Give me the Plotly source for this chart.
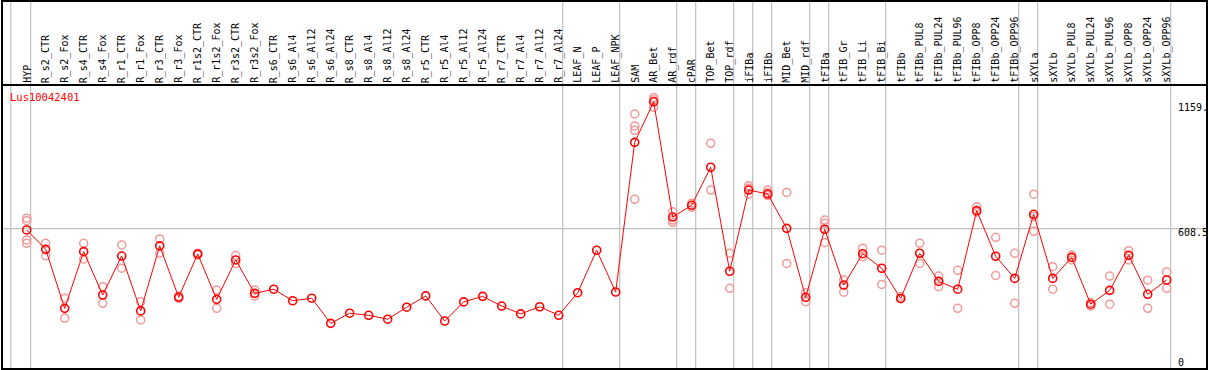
import plotly.graph_objects as go

categories = [
    "HYP", "R_s2_CTR", "R_s2_Fox", "R_s4_CTR", "R_s4_Fox", "R_r1_CTR", "R_r1_Fox",
    "R_r3_CTR", "R_r3_Fox", "R_r1s2_CTR", "R_r1s2_Fox", "R_r3s2_CTR", "R_r3s2_Fox",
    "R_s6_CTR", "R_s6_Al4", "R_s6_Al12", "R_s6_Al24", "R_s8_CTR", "R_s8_Al4",
    "R_s8_Al12", "R_s8_Al24", "R_r5_CTR", "R_r5_Al4", "R_r5_Al12", "R_r5_Al24",
    "R_r7_CTR", "R_r7_Al4", "R_r7_Al12", "R_r7_Al24", "LEAF_N", "LEAF_P", "LEAF_NPK",
    "SAM", "AR_Bet", "AR_rdf", "cPAR", "TOP_Bet", "TOP_rdf", "iFIBa", "iFIBb",
    "MID_Bet", "MID_rdf", "tFIBa", "tFIB_Gr", "tFIB_Li", "tFIB_Bi", "tFIBb",
    "tFIBb_PUL8", "tFIBb_PUL24", "tFIBb_PUL96", "tFIBb_OPP8", "tFIBb_OPP24",
    "tFIBb_OPP96", "sXYLa", "sXYLb", "sXYLb_PUL8", "sXYLb_PUL24", "sXYLb_PUL96",
    "sXYLb_OPP8", "sXYLb_OPP24", "sXYLb_OPP96",
]

mean_values = [
    603, 519, 263, 509, 321, 490, 252, 534, 311, 499, 302, 473, 328,
    346, 296, 307, 198, 242, 233, 216, 268, 317, 208, 291, 315,
    273, 239, 270, 233, 331, 515, 334,
    983, 1159, 659, 710, 875, 424, 776, 759,
    610, 311, 606, 364, 500, 437, 306,
    502, 380, 346, 687, 489, 393,
    671, 393, 484, 281, 341, 493, 324, 386,
]

replicate_values = [
    [654, 643, 560, 545], [545, 491], [307, 220], [545, 476], [357, 285],
    [538, 437], [292, 213], [564, 502], [317, 307], [502, 494], [343, 263],
    [493, 458], [343, 317],
    [], [], [], [], [], [], [], [], [], [], [], [], [], [], [], [],
    [], [], [],
    [1106, 1054, 1035, 736], [1178, 1168, 1135], [682, 646, 636], [719, 701],
    [979, 776], [502, 350], [795, 784, 758], [776, 766, 752],
    [766, 458], [331, 292], [646, 632, 548], [386, 333], [524, 487],
    [515, 367], [314, 304],
    [545, 458], [403, 357], [428, 263], [704, 680], [571, 406], [502, 285],
    [758, 661, 597], [444, 346], [494, 473], [288, 273], [403, 281],
    [513, 473], [385, 263], [421, 350],
]

separators_after = [
    "HYP", "R_r7_Al24", "LEAF_NPK", "AR_rdf", "cPAR", "TOP_rdf", "iFIBa", "iFIBb",
    "MID_rdf", "tFIBa", "tFIB_Bi", "tFIBb_OPP96", "sXYLa", "sXYLb_OPP96",
]

gene_name = "Lus10042401"
axis_labels = ["1159.", "608.5", "0"]
grid_value = 608.5

# ---- geometry (pixels) ----
W, H = 1209, 370
X0_PX, DX_PX = 26.7, 19.0          # pixel of first category, spacing
Y0_PX, UNITS_PER_PX = 369.0, 4.337  # pixel of value 0, value units per pixel

x_range = [(0 - X0_PX) / DX_PX, (W - X0_PX) / DX_PX]
y_range = [(Y0_PX - H) * UNITS_PER_PX, Y0_PX * UNITS_PER_PX]


def px_x(p):
    return p / W


def px_y(p):
    return 1 - p / H


FONT = "DejaVu Sans Mono"
RED = "#ff0000"
PINK = "#f09a9a"
GRID = "#c0c0c0"

idx = list(range(len(categories)))

fig = go.Figure()

# replicate points
rx, ry = [], []
for i, reps in enumerate(replicate_values):
    for v in reps:
        rx.append(i)
        ry.append(v)
fig.add_trace(go.Scatter(
    x=rx, y=ry, mode="markers",
    marker=dict(symbol="circle-open", size=8, color=PINK, line=dict(width=1.5, color=PINK)),
    hoverinfo="skip", showlegend=False,
))

# mean line
fig.add_trace(go.Scatter(
    x=idx, y=mean_values, mode="lines+markers",
    line=dict(color=RED, width=1),
    marker=dict(symbol="circle-open", size=8, color=RED, line=dict(width=1.6, color=RED)),
    showlegend=False,
))

shapes = []
# separators
sep_positions = [-0.84] + [categories.index(c) + 0.21 for c in separators_after]
for s in sep_positions:
    shapes.append(dict(type="line", xref="x", yref="paper", x0=s, x1=s,
                       y0=px_y(369), y1=px_y(0), line=dict(color=GRID, width=1.2), layer="below"))
# horizontal grid line
shapes.append(dict(type="line", xref="paper", yref="y", x0=px_x(2), x1=px_x(1207),
                   y0=grid_value, y1=grid_value, line=dict(color=GRID, width=1.2), layer="below"))
# black frame
for (x0, y0, x1, y1) in [(1, 1, 1208, 1), (1, 85, 1208, 85), (1, 369, 1208, 369),
                         (2, 0, 2, 370), (1207, 0, 1207, 370)]:
    shapes.append(dict(type="line", xref="paper", yref="paper",
                       x0=px_x(x0), x1=px_x(x1), y0=px_y(y0), y1=px_y(y1),
                       line=dict(color="black", width=2)))

annotations = []
for i, c in enumerate(categories):
    annotations.append(dict(
        x=i, xref="x", y=px_y(84), yref="paper", text=c, textangle=-90,
        showarrow=False, xanchor="center", yanchor="bottom",
        font=dict(family=FONT, size=10, color="black"), borderpad=0,
    ))

annotations.append(dict(x=px_x(8), y=px_y(97.5), xref="paper", yref="paper", text=gene_name,
                        showarrow=False, xanchor="left", yanchor="middle",
                        font=dict(family=FONT, size=10.5, color=RED)))
for lbl, yc in zip(axis_labels, [107.3, 232.7, 362]):
    annotations.append(dict(x=px_x(1176), y=px_y(yc), xref="paper", yref="paper", text=lbl,
                            showarrow=False, xanchor="left", yanchor="middle",
                            font=dict(family=FONT, size=10, color="black")))

fig.update_layout(
    width=W, height=H, margin=dict(l=0, r=0, t=0, b=0),
    paper_bgcolor="white", plot_bgcolor="white",
    xaxis=dict(range=x_range, visible=False, fixedrange=True),
    yaxis=dict(range=y_range, visible=False, fixedrange=True),
    shapes=shapes, annotations=annotations, showlegend=False,
)

fig.write_html(
    "out.html",
    config={"displayModeBar": False},
    post_script="document.body.style.margin='0';document.body.style.overflow='hidden';",
)
